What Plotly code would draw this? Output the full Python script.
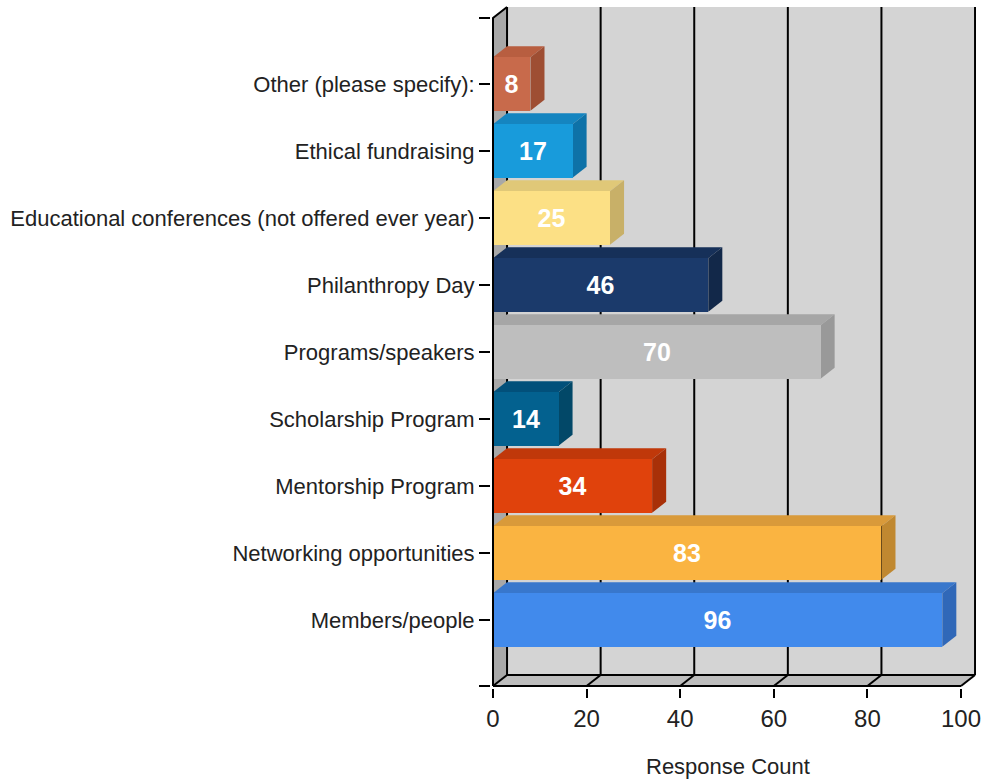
import plotly.graph_objects as go

# Survey answers, listed bottom-to-top as they sit on the value axis
categories = [
    "Members/people",
    "Networking opportunities",
    "Mentorship Program",
    "Scholarship Program",
    "Programs/speakers",
    "Philanthropy Day",
    "Educational conferences (not offered ever year)",
    "Ethical fundraising",
    "Other (please specify):",
]
counts = [96, 83, 34, 14, 70, 46, 25, 17, 8]

# Face colours of each 3D bar: front, top, right side
front_colors = ["#418AEC", "#FAB441", "#E0420C", "#03618F", "#BEBEBE",
                "#1B3A6B", "#FCE085", "#189BDB", "#C86A4B"]
top_colors = ["#3877CC", "#D99A3A", "#C0380A", "#02507A", "#A6A6A6",
              "#163059", "#E0C878", "#1585C0", "#B85E40"]
side_colors = ["#3068B8", "#C08830", "#A83008", "#024868", "#999999",
               "#122849", "#C8B068", "#0E72A8", "#9E4E33"]

x_ticks = [0, 20, 40, 60, 80, 100]
axis_title = "Response Count"

# Depth of the pseudo-3D box, in data units
DEPTH_X = 3.0
DEPTH_Y = 0.164
BAR_WIDTH = 0.8
Y_FLOOR = -0.985
Y_TOP = 9.15
X_MAX = 100

positions = list(range(len(categories)))

fig = go.Figure()

fig.add_trace(go.Bar(
    x=counts,
    y=positions,
    orientation="h",
    width=BAR_WIDTH,
    marker=dict(color=front_colors, line=dict(width=0)),
    text=[str(v) for v in counts],
    textposition="inside",
    insidetextanchor="middle",
    textangle=0,
    textfont=dict(color="white", size=25, family="Liberation Sans, Arial", weight="bold"),
    hoverinfo="skip",
    showlegend=False,
))

shapes = []
line_black = dict(color="black", width=2)

# Back wall, left side wall and floor of the box
shapes.append(dict(type="rect", xref="x", yref="y", layer="below",
                   x0=DEPTH_X, x1=X_MAX + DEPTH_X, y0=Y_FLOOR + DEPTH_Y, y1=Y_TOP,
                   fillcolor="#D4D4D4", line=dict(width=0)))
shapes.append(dict(type="path", xref="x", yref="y", layer="below",
                   path=f"M 0,{Y_FLOOR} L 0,{Y_TOP - DEPTH_Y} L {DEPTH_X},{Y_TOP} "
                        f"L {DEPTH_X},{Y_FLOOR + DEPTH_Y} Z",
                   fillcolor="#A8A8A8", line=dict(width=0)))
shapes.append(dict(type="path", xref="x", yref="y", layer="below",
                   path=f"M 0,{Y_FLOOR} L {X_MAX},{Y_FLOOR} L {X_MAX + DEPTH_X},{Y_FLOOR + DEPTH_Y} "
                        f"L {DEPTH_X},{Y_FLOOR + DEPTH_Y} Z",
                   fillcolor="#BDBDBD", line=dict(width=0)))

# Grid lines on the back wall and their diagonals across the floor
for t in x_ticks:
    shapes.append(dict(type="line", xref="x", yref="y", layer="below",
                       x0=t + DEPTH_X, x1=t + DEPTH_X, y0=Y_FLOOR + DEPTH_Y, y1=Y_TOP,
                       line=line_black))
    shapes.append(dict(type="line", xref="x", yref="y", layer="below",
                       x0=t, x1=t + DEPTH_X, y0=Y_FLOOR, y1=Y_FLOOR + DEPTH_Y,
                       line=line_black))
# Back edge of the floor
shapes.append(dict(type="line", xref="x", yref="y", layer="below",
                   x0=DEPTH_X, x1=X_MAX + DEPTH_X, y0=Y_FLOOR + DEPTH_Y, y1=Y_FLOOR + DEPTH_Y,
                   line=line_black))

# Top and right faces of each bar
for p, v, tc, sc in zip(positions, counts, top_colors, side_colors):
    y_hi = p + BAR_WIDTH / 2
    y_lo = p - BAR_WIDTH / 2
    shapes.append(dict(type="path", xref="x", yref="y", layer="below",
                       path=f"M 0,{y_hi} L {v},{y_hi} L {v + DEPTH_X},{y_hi + DEPTH_Y} "
                            f"L {DEPTH_X},{y_hi + DEPTH_Y} Z",
                       fillcolor=tc, line=dict(width=0)))
    shapes.append(dict(type="path", xref="x", yref="y", layer="below",
                       path=f"M {v},{y_lo} L {v},{y_hi} L {v + DEPTH_X},{y_hi + DEPTH_Y} "
                            f"L {v + DEPTH_X},{y_lo + DEPTH_Y} Z",
                       fillcolor=sc, line=dict(width=0)))

# Front axis lines of the box
shapes.append(dict(type="line", xref="x", yref="y", layer="above",
                   x0=0, x1=X_MAX, y0=Y_FLOOR, y1=Y_FLOOR, line=line_black))
shapes.append(dict(type="path", xref="x", yref="y", layer="above",
                   path=f"M 0,{Y_FLOOR} L 0,{Y_TOP - DEPTH_Y} L {DEPTH_X},{Y_TOP}",
                   line=line_black))

# Pixel mapping: 0 -> 493 px, 100 -> 961 px; category i -> 620 - 67 i px
PX_PER_X = 4.68
PX_PER_Y = 67.0
margin_l, margin_r, margin_t, margin_b = 491, 9, 5, 94
plot_w = 985 - margin_l - margin_r
plot_h = 782 - margin_t - margin_b
x0 = -(493 - margin_l) / PX_PER_X
x1 = x0 + plot_w / PX_PER_X
y0 = -(782 - margin_b - 620) / PX_PER_Y
y1 = y0 + plot_h / PX_PER_Y

fig.update_layout(
    width=985, height=782, autosize=False,
    margin=dict(l=margin_l, r=margin_r, t=margin_t, b=margin_b, pad=0),
    paper_bgcolor="white", plot_bgcolor="white",
    shapes=shapes,
    bargap=0,
    xaxis=dict(
        range=[x0, x1], tickvals=x_ticks, ticktext=[str(t) for t in x_ticks],
        ticks="outside", ticklen=9, tickwidth=2, tickcolor="black",
        showgrid=False, zeroline=False, showline=False,
        tickfont=dict(family="Liberation Sans, Arial", size=24, color="#222222"),
        fixedrange=True,
    ),
    yaxis=dict(
        range=[y0, y1],
        tickvals=positions + [Y_FLOOR, Y_TOP - DEPTH_Y],
        ticktext=categories + ["", ""],
        ticks="outside", ticklen=11, tickwidth=2, tickcolor="black",
        showgrid=False, zeroline=False, showline=False,
        tickfont=dict(family="Liberation Sans, Arial", size=22, color="#222222"),
        fixedrange=True,
    ),
    annotations=[dict(
        text=axis_title, xref="paper", yref="paper",
        x=(728 - margin_l) / plot_w, y=-(766 - (782 - margin_b)) / plot_h,
        xanchor="center", yanchor="middle", showarrow=False,
        font=dict(family="Liberation Sans, Arial", size=22, color="#222222"),
    )],
)

fig.write_html("out.html")
